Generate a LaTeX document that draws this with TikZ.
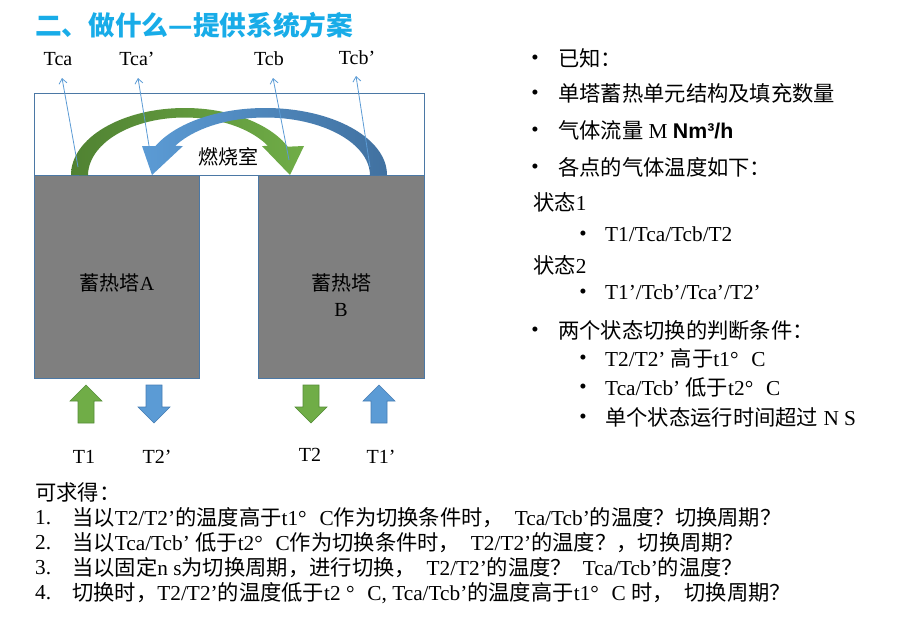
\documentclass[tikz,border=0pt]{standalone}
\usepackage{fontspec}
\setmainfont{Liberation Serif}
\newfontfamily\cjk{Noto Sans CJK SC}
\newfontfamily\arialf{Liberation Sans}
\usetikzlibrary{arrows.meta}
\definecolor{titlec}{RGB}{24,172,232}
\definecolor{edgec}{RGB}{75,120,165}
\definecolor{towerc}{RGB}{127,127,127}
\definecolor{gL}{RGB}{112,173,71}
\definecolor{gD}{RGB}{80,130,50}
\definecolor{gE}{RGB}{84,140,55}
\definecolor{bL}{RGB}{91,155,213}
\definecolor{bD}{RGB}{65,113,160}
\definecolor{bE}{RGB}{70,125,180}
\definecolor{leadc}{RGB}{91,155,213}
\newcommand{\zh}[1]{{\cjk #1}}
\newcommand{\degc}{°\hspace{0.6em}C}
\tikzset{
  txt/.style={font=\fontsize{21.3}{25}\selectfont, inner sep=0pt, anchor=west},
  lbl/.style={font=\fontsize{20}{24}\selectfont, inner sep=0pt},
  blt/.style={font=\fontsize{21}{24}\selectfont, inner sep=0pt, yshift=-2pt},
  lead/.style={draw=leadc, line width=0.8pt, -{Straight Barb[length=5pt,width=8pt]}},
  tower/.style={fill=towerc, draw=edgec, line width=0.8pt},
}
\begin{document}
\begin{tikzpicture}[x=1pt,y=-1pt]
\useasboundingbox (0,0) rectangle (911,627);
% title
\node[anchor=west, inner sep=0pt, text=titlec, font=\cjk\bfseries\fontsize{26.7}{30}\selectfont] (title) at (35,25) {二、做什么—提供系统方案};
% top chamber box
\draw[fill=white, draw=edgec, line width=0.8pt] (34,93) rectangle (424,175);
% towers
\draw[tower] (34,175) rectangle (199,378);
\draw[tower] (258,175) rectangle (424,378);
\node[inner sep=0pt, font=\fontsize{20}{24}\selectfont] (ta) at (117,283) {\zh{蓄热塔}A};
\node[inner sep=0pt, font=\fontsize{20}{24}\selectfont] (tb1) at (341,283) {\zh{蓄热塔}};
\node[inner sep=0pt, font=\fontsize{20}{24}\selectfont] (tb2) at (341,310) {B};
\node[inner sep=0pt, font=\cjk\fontsize{20}{24}\selectfont] (burn) at (228,157) {燃烧室};
% green curved arrow
\shade[left color=gD, right color=gL] (71,175) arc[start angle=180, end angle=335, x radius=113.75, y radius=67] -- (304,146) -- (290,175) -- (262,146) -- (268.02,145.99) arc[start angle=329.4, end angle=180, x radius=96.75, y radius=58] -- cycle;
% blue curved arrow
\shade[left color=bL, right color=bD] (387,175) arc[start angle=360, end angle=205.65, x radius=121.75, y radius=67] -- (142,146) -- (152,175) -- (183,146) -- (175.09,145.99) arc[start angle=210.6, end angle=360, x radius=104.75, y radius=58] -- cycle;
% labels top
\node[lbl] (tca) at (58,59) {Tca};
\node[lbl] (tcap) at (137,59) {Tca’};
\node[lbl] (tcb) at (269,59) {Tcb};
\node[lbl] (tcbp) at (357,58) {Tcb’};
\coordinate (ca0) at (78,167);
\coordinate (ca1) at (62,78);
\coordinate (cap0) at (150,152);
\coordinate (cap1) at (138,78);
\coordinate (cb0) at (289,160);
\coordinate (cb1) at (273,78);
\coordinate (cbp0) at (370,167);
\coordinate (cbp1) at (356,76);
\draw[lead] (ca0) -- (ca1);
\draw[lead] (cap0) -- (cap1);
\draw[lead] (cb0) -- (cb1);
\draw[lead] (cbp0) -- (cbp1);
% block arrows below towers
\filldraw[fill=gL, draw=gE, line width=0.6pt] (78,423) -- (78,401) -- (70,401) -- (86,385) -- (102,401) -- (94,401) -- (94,423) -- cycle;
\filldraw[fill=bL, draw=bE, line width=0.6pt] (146,385) -- (162,385) -- (162,407) -- (170,407) -- (154,423) -- (138,407) -- (146,407) -- cycle;
\filldraw[fill=gL, draw=gE, line width=0.6pt] (303,385) -- (319,385) -- (319,407) -- (327,407) -- (311,423) -- (295,407) -- (303,407) -- cycle;
\filldraw[fill=bL, draw=bE, line width=0.6pt] (371,423) -- (371,401) -- (363,401) -- (379,385) -- (395,401) -- (387,401) -- (387,423) -- cycle;
\node[lbl] (t1) at (84,457) {T1};
\node[lbl] (t2p) at (157,457) {T2’};
\node[lbl] (t2) at (310,455) {T2};
\node[lbl] (t1p) at (381,457) {T1’};
% right column
\node[blt] (b1) at (535,58) {•};
\node[txt] (r1) at (558,58) {\zh{已知：}};
\node[blt] (b2) at (535,93) {•};
\node[txt] (r2) at (558,93) {\zh{单塔蓄热单元结构及填充数量}};
\node[blt] (b3) at (535,130) {•};
\node[txt] (r3) at (558,130) {\zh{气体流量} M {\arialf\bfseries Nm³/h}};
\node[blt] (b4) at (535,167) {•};
\node[txt] (r4) at (558,167) {\zh{各点的气体温度如下：}};
\node[txt] (s1) at (533,202) {\zh{状态}1};
\node[blt] (b5) at (583,234) {•};
\node[txt] (r5) at (605,234) {T1/Tca/Tcb/T2};
\node[txt] (s2) at (533,265) {\zh{状态}2};
\node[blt] (b6) at (583,292) {•};
\node[txt] (r6) at (605,292) {T1’/Tcb’/Tca’/T2’};
\node[blt] (b7) at (535,330) {•};
\node[txt] (r7) at (558,330) {\zh{两个状态切换的判断条件：}};
\node[blt] (b8) at (583,358) {•};
\node[txt] (r8) at (605,358) {T2/T2’ \zh{高于}t1\degc};
\node[blt] (b9) at (583,387) {•};
\node[txt] (r9) at (605,387) {Tca/Tcb’ \zh{低于}t2\degc};
\node[blt] (b10) at (583,417) {•};
\node[txt] (r10) at (605,417) {\zh{单个状态运行时间超过} N S};
% bottom questions
\node[txt] (q0) at (35,492) {\zh{可求得：}};
\node[txt] (n1) at (35,518) {1.};
\node[txt] (q1) at (72,518) {\zh{当以}T2/T2’\zh{的温度高于}t1\degc\zh{作为切换条件时，}\ \ Tca/Tcb’\zh{的温度？切换周期？}};
\node[txt] (n2) at (35,543) {2.};
\node[txt] (q2) at (72,543) {\zh{当以}Tca/Tcb’ \zh{低于}t2\degc\zh{作为切换条件时，}\ \ T2/T2’\zh{的温度？，切换周期？}};
\node[txt] (n3) at (35,568) {3.};
\node[txt] (q3) at (72,568) {\zh{当以固定}n s\zh{为切换周期，进行切换，}\ \ T2/T2’\zh{的温度？}\ \ Tca/Tcb’\zh{的温度？}};
\node[txt] (n4) at (35,593) {4.};
\node[txt] (q4) at (72,593) {\zh{切换时，}T2/T2’\zh{的温度低于}t2 \degc, Tca/Tcb’\zh{的温度高于}t1\degc\ \zh{时，}\ \ \zh{切换周期？}};
\end{tikzpicture}
\end{document}
